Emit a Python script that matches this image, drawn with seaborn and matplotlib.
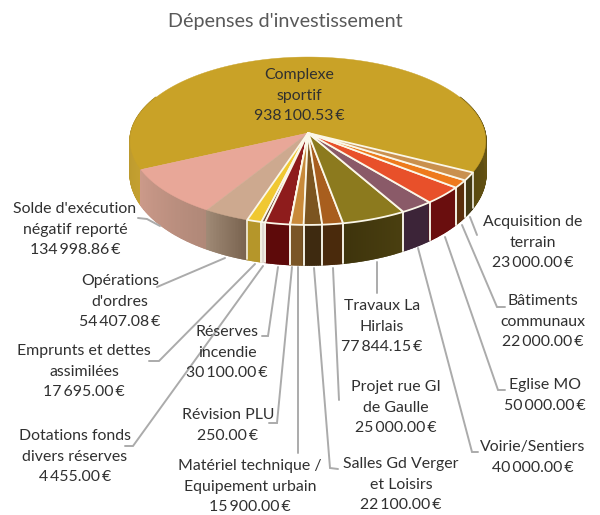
import numpy as np
import matplotlib
matplotlib.use("Agg")
import matplotlib.pyplot as plt
import matplotlib.colors as mcolors
import seaborn as sns

#-----Data-----#
labels = ["Complexe\nsportif", "Solde d'exécution\nnégatif reporté", "Opérations\nd'ordres",
          "Emprunts et dettes\nassimilées", "Dotations fonds\ndivers réserves", "Réserves\nincendie",
          "Révision PLU", "Matériel technique /\nEquipement urbain", "Salles Gd Verger\net Loisirs",
          "Projet rue GI\nde Gaulle", "Travaux La\nHirlais", "Voirie/Sentiers", "Eglise MO",
          "Bâtiments\ncommunaux", "Acquisition de\nterrain"]
values = [938100.53, 134998.86, 54407.08, 17695.00, 4455.00, 30100.00, 250.00, 15900.00,
          22100.00, 25000.00, 77844.15, 40000.00, 50000.00, 22000.00, 23000.00]
top_colors = ["#C9A227", "#E8A798", "#CDA98F", "#F0C832", "#6A4A3A", "#8E1C1C", "#B08050", "#C98A3A",
              "#7C5520", "#A85E1E", "#8C7A1E", "#8A5A68", "#E8502A", "#EE7A1C", "#C9904E"]
side_start = ["#5A4A10", "#CC9A8A", "#A08A76", "#B5962A", "#E0D8D0", "#5E0A0A", "#B08050", "#7A5526",
              "#3E2A10", "#4A2A0C", "#3E340C", "#3C2438", "#6A0E0E", "#5A2E0C", "#453A14"]
side_end = ["#C4A030", "#B08878", "#7A6450", "#B5962A", "#E0D8D0", "#5E0A0A", "#B08050", "#7A5526",
            "#3E2A10", "#4A2A0C", "#4A3F10", "#3C2438", "#6A0E0E", "#5A2E0C", "#453A14"]
white_edge = [False, False, False] + [True] * 12

# label centre x, first line y
label_pos = [(299, 75), (75, 209), (120, 281), (84, 351), (75, 436), (227, 332), (228, 415), (250, 466),
             (401, 464), (396, 387), (382, 306), (533, 447), (545, 385), (543, 301), (533, 222)]
leaders = [[(138, 218), (147, 219), (160, 226)],
           [(157, 287), (225, 258)],
           [(149, 361), (159, 361), (255, 264)],
           [(125, 446), (133, 446), (263, 266)],
           [(262, 336), (268, 336), (278, 267)],
           [(269, 423), (277, 423), (292, 267)],
           [(298, 267), (298, 453)],
           [(338, 469), (330, 468), (314, 268)],
           [(333, 268), (339, 400)],
           [(377, 262), (377, 293)],
           [(478, 452), (472, 452), (418, 248)],
           [(505, 390), (498, 390), (445, 237)],
           [(505, 307), (497, 307), (462, 225)],
           [(477, 235), (470, 217)]]

start_angle = -27
line_gap = 20.7


#-----Projection of the pie disc into the picture-----#
def project(theta, r=1.0):
    x = r * np.cos(np.radians(theta))
    y = -r * np.sin(np.radians(theta))  # y>0 is the front of the disc
    k = 0.095
    w = 1 - k * y
    return 308 + 177 * x / w, 133 + 83.2 * y / w


def project_bottom(theta):
    px, py = project(theta)
    y = -np.sin(np.radians(theta))
    return px, py + 32 + 8 * y


def format_euro(v):
    return f"{v:,.2f}".replace(",", "\u2009") + "\u2009€"


sns.set_theme(style="white")
plt.rcParams['font.family'] = ['Lato', 'DejaVu Sans']

fig = plt.figure(figsize=(6, 5.15), dpi=100)
ax = fig.add_axes([0, 0, 1, 1])
ax.set_xlim(0, 600)
ax.set_ylim(515, 0)
ax.axis("off")

spans = np.array(values) / np.sum(values) * 360
ends = start_angle + np.cumsum(spans)
starts = ends - spans

# side of the pie, small strips so the colour can run across a slice
for i in range(len(values)):
    n = max(int(spans[i] / 0.5), 2)
    steps = np.linspace(starts[i], ends[i], n + 1)
    c0 = np.array(mcolors.to_rgb(side_start[i]))
    c1 = np.array(mcolors.to_rgb(side_end[i]))
    for j in range(n):
        if np.sin(np.radians((steps[j] + steps[j + 1]) / 2)) > 0.45:
            continue
        xt, yt = project(steps[j:j + 2])
        xb, yb = project_bottom(steps[j:j + 2])
        col = c0 + (c1 - c0) * j / max(n - 1, 1)
        ax.fill(np.r_[xt, xb[::-1]], np.r_[yt, yb[::-1]], color=col, lw=1.2, zorder=1)

# white seams on the side
for i in range(len(values)):
    if white_edge[i]:
        for a in (starts[i], ends[i]):
            xt, yt = project(a)
            xb, yb = project_bottom(a)
            ax.plot([xt, xb], [yt, yb], color="#F4F0E4", lw=1.2, zorder=2)

# top face
for i in range(len(values)):
    t = np.linspace(starts[i], ends[i], max(int(spans[i]), 2) + 1)
    xr, yr = project(t)
    edge = "#FBF7E8" if white_edge[i] else top_colors[i]
    ax.fill(np.r_[308, xr], np.r_[133, yr], facecolor=top_colors[i], edgecolor=edge,
            lw=1.3 if white_edge[i] else 0.3, joinstyle="round", zorder=3 + int(white_edge[i]))

for pts in leaders:
    xs, ys = zip(*pts)
    ax.plot(xs, ys, color="#ABABAB", lw=1.4, zorder=5, solid_joinstyle="miter")

ax.text(285, 21, "Dépenses d'investissement", ha="center", va="center", fontsize=14.2, color="#595959")

for i in range(len(values)):
    lines = labels[i].split("\n") + [format_euro(values[i])]
    cx, y0 = label_pos[i]
    for j, line in enumerate(lines):
        ax.text(cx, y0 + j * line_gap, line, ha="center", va="center", fontsize=11.4,
                color="#303030", zorder=6)

fig.savefig("out.png", dpi=100, facecolor="white")
